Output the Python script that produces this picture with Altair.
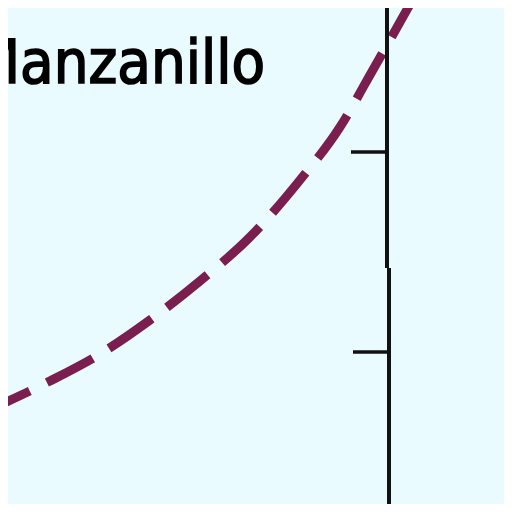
import altair as alt
import pandas as pd

# Route (dashed) in map units: x east, y north
route_x = [0, 50, 100, 150, 200, 250, 300, 340, 370, 400, 415, 430]
route_y = [107, 131, 158, 192, 231, 275, 332, 385, 437, 490, 517, 547]

# Vertical boundary segments
seg_x = [387, 389]
seg_y_top = [560, 244]
seg_y_bot = [244, -20]

# Tick marks on the boundary
tick_x_start = [351, 353]
tick_x_end = [387, 388]
tick_y = [360, 160]

# Place label
label_text = ["Manzanillo"]
label_x = [265]
label_y = [429]

BG = "#e9fbfe"
xs = alt.Scale(domain=[8, 504], nice=False, zero=False)
ys = alt.Scale(domain=[8, 504], nice=False, zero=False)

route = pd.DataFrame({"x": route_x, "y": route_y, "o": list(range(len(route_x)))})
segs = pd.DataFrame({"x": seg_x, "y": seg_y_top, "y2": seg_y_bot})
ticks = pd.DataFrame({"x": tick_x_start, "x2": tick_x_end, "y": tick_y})
labels = pd.DataFrame({"t": label_text, "x": label_x, "y": label_y})

route_layer = alt.Chart(route).mark_line(
    color="#7a1e4f", strokeWidth=9, strokeDash=[52, 19], strokeDashOffset=19,
    strokeCap="butt", interpolate="monotone", clip=True
).encode(
    x=alt.X("x:Q", scale=xs, axis=None),
    y=alt.Y("y:Q", scale=ys, axis=None),
    order="o:Q",
)

seg_layer = alt.Chart(segs).mark_rule(color="#111111", strokeWidth=4, clip=True).encode(
    x=alt.X("x:Q", scale=xs, axis=None),
    y=alt.Y("y:Q", scale=ys, axis=None),
    y2="y2:Q",
)

tick_layer = alt.Chart(ticks).mark_rule(color="#111111", strokeWidth=3.5, clip=True).encode(
    x=alt.X("x:Q", scale=xs, axis=None),
    x2="x2:Q",
    y=alt.Y("y:Q", scale=ys, axis=None),
)

label_layer = alt.Chart(labels).mark_text(
    font="DejaVu Sans Condensed, Liberation Sans", fontSize=61, fontWeight="normal",
    color="#000000", stroke="#000000", strokeWidth=1.6,
    align="right", baseline="alphabetic", clip=True
).encode(
    x=alt.X("x:Q", scale=xs, axis=None),
    y=alt.Y("y:Q", scale=ys, axis=None),
    text="t:N",
)

chart = alt.layer(route_layer, seg_layer, tick_layer, label_layer).properties(
    width=496, height=496, padding=0, autosize="none", background=BG
).configure_view(stroke=None, fill=BG)

chart.save("out.html", embed_options={"renderer": "svg", "actions": False})
